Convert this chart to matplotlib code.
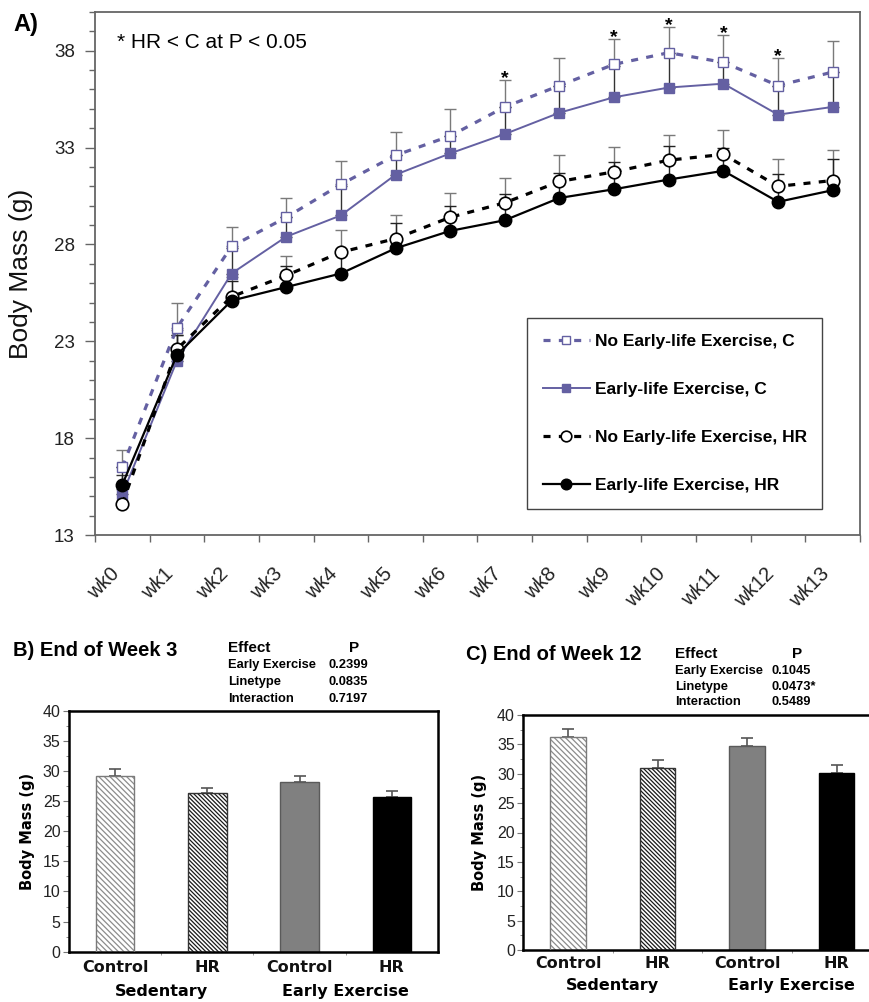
import numpy as np
import matplotlib
matplotlib.use('Agg')
import matplotlib.pyplot as plt
from matplotlib.transforms import ScaledTranslation, blended_transform_factory

plt.rcParams['font.family'] = ['Liberation Sans', 'DejaVu Sans']
plt.rcParams['hatch.linewidth'] = 0.9

# ---------------- data: panel A (weekly body mass) ----------------
weeks = ['wk0', 'wk1', 'wk2', 'wk3', 'wk4', 'wk5', 'wk6',
         'wk7', 'wk8', 'wk9', 'wk10', 'wk11', 'wk12', 'wk13']
nox_c = [16.5, 23.7, 27.9, 29.4, 31.1, 32.6, 33.6, 35.1, 36.2, 37.3, 37.9, 37.4, 36.2, 36.9]
nox_c_err = [0.9, 1.3, 1.0, 1.0, 1.2, 1.2, 1.4, 1.4, 1.4, 1.3, 1.35, 1.4, 1.45, 1.6]
ex_c = [15.1, 22.0, 26.5, 28.4, 29.5, 31.6, 32.7, 33.7, 34.8, 35.6, 36.1, 36.3, 34.7, 35.1]
ex_c_err = [1.0, 1.3, 1.3, 1.0, 1.5, 1.0, 0.9, 1.4, 1.4, 1.6, 1.8, 1.1, 1.5, 1.8]
nox_hr = [14.6, 22.6, 25.3, 26.4, 27.6, 28.3, 29.4, 30.15, 31.25, 31.75, 32.35, 32.65, 31.0, 31.3]
nox_hr_err = [0.8, 1.0, 1.0, 1.0, 1.15, 1.2, 1.25, 1.3, 1.35, 1.3, 1.3, 1.25, 1.4, 1.55]
ex_hr = [15.6, 22.3, 25.1, 25.8, 26.5, 27.8, 28.7, 29.25, 30.4, 30.85, 31.35, 31.8, 30.2, 30.8]
ex_hr_err = [0.9, 1.0, 1.0, 1.1, 1.2, 1.3, 1.3, 1.35, 1.3, 1.4, 1.75, 1.2, 1.45, 1.6]
star_weeks = [7, 9, 10, 11, 12]

# ---------------- data: panels B and C (bars) ----------------
bar_labels = ['Control', 'HR', 'Control', 'HR']
wk3_mass = [29.2, 26.3, 28.2, 25.7]
wk3_err = [1.1, 0.95, 1.0, 1.0]
wk12_mass = [36.2, 30.9, 34.7, 30.2]
wk12_err = [1.4, 1.4, 1.45, 1.35]
effects = ['Early Exercise', 'Linetype', 'Interaction']
wk3_p = ['0.2399', '0.0835', '0.7197']
wk12_p = ['0.1045', '0.0473*', '0.5489']

purple = '#6460a2'
W, H = 870, 1002
fig = plt.figure(figsize=(8.7, 10.02), dpi=100)

# ======================= A) line chart =======================
ax = fig.add_axes([95 / W, 1 - 535 / H, 765 / W, 523 / H])
x = np.arange(len(weeks))
zeros = np.zeros(len(weeks))

ax.errorbar(x, nox_c, yerr=[zeros, nox_c_err], fmt='none', ecolor='#7a7a7a',
            elinewidth=1.0, capsize=4.5, capthick=1.0, zorder=2)
ax.errorbar(x, ex_c, yerr=[zeros, ex_c_err], fmt='none', ecolor='#333333',
            elinewidth=1.0, capsize=4.5, capthick=1.0, zorder=2)
ax.errorbar(x, nox_hr, yerr=[zeros, nox_hr_err], fmt='none', ecolor='#7a7a7a',
            elinewidth=1.0, capsize=4.5, capthick=1.0, zorder=2)
ax.errorbar(x, ex_hr, yerr=[zeros, ex_hr_err], fmt='none', ecolor='#222222',
            elinewidth=1.0, capsize=4.5, capthick=1.0, zorder=2)

dash = (0, (2.2, 2.6))
ax.plot(x, nox_c, color=purple, lw=2.3, ls=dash, marker='s', ms=7.5,
        mfc='white', mec=purple, mew=1.0, zorder=3, label='No Early-life Exercise, C')
ax.plot(x, ex_c, color=purple, lw=1.4, marker='s', ms=7.5,
        mfc=purple, mec=purple, zorder=3, label='Early-life Exercise, C')
ax.plot(x, nox_hr, color='black', lw=2.3, ls=dash, marker='o', ms=9,
        mfc='white', mec='black', mew=1.2, zorder=4, label='No Early-life Exercise, HR')
ax.plot(x, ex_hr, color='black', lw=1.6, marker='o', ms=9,
        mfc='black', mec='black', zorder=4, label='Early-life Exercise, HR')

for i in star_weeks:
    ax.annotate('*', (x[i], nox_c[i] + nox_c_err[i]), xytext=(0, 1),
                textcoords='offset points', ha='center', va='center',
                fontsize=14, fontweight='bold', color='black')

ax.set_xlim(-0.5, len(weeks) - 0.5)
ax.set_ylim(13, 40)
ax.set_yticks([13, 18, 23, 28, 33, 38])
ax.set_yticks(np.arange(13, 41, 1), minor=True)
ax.set_xticks(x)
ax.set_xticklabels(weeks, rotation=45, ha='right', va='top',
                   rotation_mode='anchor', fontsize=14.5, color='#222222')
ax.set_xticks(np.arange(-0.5, len(weeks), 1), minor=True)
ax.tick_params(axis='x', which='major', length=0, pad=21)
ax.tick_params(axis='x', which='minor', length=5, width=1.0, color='#666666')
ax.tick_params(axis='y', which='major', length=7.5, width=1.0, color='#666666',
               labelsize=13.5, labelcolor='#222222', pad=7)
ax.tick_params(axis='y', which='minor', length=4.5, width=1.0, color='#666666')
shift = ScaledTranslation(-13 / 100, 0, fig.dpi_scale_trans)
for lab in ax.get_xticklabels():
    lab.set_transform(lab.get_transform() + shift)
for s in ax.spines.values():
    s.set_color('#666666')
    s.set_linewidth(1.3)

ax.set_ylabel('Body Mass (g)', fontsize=19, color='#111111')
ax.yaxis.set_label_coords((33 - 95) / 765, 0.5)

ax.text((117 - 95) / 765, (535 - 43) / 523, '* HR < C at P < 0.05',
        transform=ax.transAxes, ha='left', va='center', fontsize=15)
fig.text(13 / W, 1 - 24 / H, 'A)', fontsize=17, fontweight='bold', va='center')

leg = ax.legend(loc='upper left', bbox_to_anchor=(527 / W, 1 - 318 / H),
                bbox_transform=fig.transFigure, borderaxespad=0, fancybox=False,
                edgecolor='#444444', framealpha=1, numpoints=1, markerscale=0.85,
                prop={'weight': 'bold', 'size': 12.5}, labelspacing=1.9,
                handlelength=2.7, handletextpad=0.3, borderpad=0.9)
leg.get_frame().set_linewidth(1.0)


# ======================= B) and C) bar charts =======================
def bar_panel(ax, vals, errs, width, pad, row2_y):
    pos = np.arange(len(vals))
    ax.bar(pos[0], vals[0], width, color='white', edgecolor='#8c8c8c',
           hatch='\\' * 6, linewidth=0, zorder=2)
    ax.bar(pos[1], vals[1], width, color='white', edgecolor='#1a1a1a',
           hatch='\\' * 8, linewidth=0, zorder=2)
    ax.bar(pos[:2], vals[:2], width, fill=False, edgecolor=['#7a7a7a', '#333333'],
           linewidth=1.0, zorder=3)
    ax.bar(pos[2], vals[2], width, color='#808080', edgecolor='#5a5a5a',
           linewidth=1.0, zorder=2)
    ax.bar(pos[3], vals[3], width, color='black', edgecolor='black',
           linewidth=1.0, zorder=2)
    ax.errorbar(pos, vals, yerr=[np.zeros(len(vals)), errs], fmt='none',
                ecolor='#555555', elinewidth=1.2, capsize=4, capthick=1.2, zorder=1)
    ax.set_xlim(-0.5, len(vals) - 0.5)
    ax.set_ylim(0, 40)
    ax.set_yticks(np.arange(0, 41, 5))
    ax.set_yticks(np.arange(0, 40.1, 2.5), minor=True)
    ax.set_xticks(pos)
    ax.set_xticklabels(bar_labels, family='DejaVu Sans', fontweight='bold',
                       fontsize=11.5, color='#111111')
    ax.set_xticks([0.5, 1.5, 2.5], minor=True)
    ax.tick_params(axis='x', which='major', length=0, pad=pad)
    ax.tick_params(axis='x', which='minor', length=2.5, color='#888888')
    ax.tick_params(axis='y', which='major', length=4, color='#777777',
                   labelsize=11.5, labelcolor='#222222', pad=2)
    ax.tick_params(axis='y', which='minor', length=2.5, color='#777777')
    for s in ax.spines.values():
        s.set_color('black')
        s.set_linewidth(1.8)
    tr = blended_transform_factory(ax.transData, ax.transAxes)
    ax.text(0.5, row2_y, 'Sedentary', transform=tr, ha='center', va='center',
            family='DejaVu Sans', fontweight='bold', fontsize=11.5)
    ax.text(2.5, row2_y, 'Early Exercise', transform=tr, ha='center', va='center',
            family='DejaVu Sans', fontweight='bold', fontsize=11.5)
    ax.set_ylabel('Body Mass (g)', family='DejaVu Sans', fontweight='bold',
                  fontsize=10.5)


def stats_table(x0, xv, y_head, y_rows, p_vals):
    fig.text(x0 / W, 1 - y_head / H, 'Effect', fontsize=11, fontweight='bold',
             ha='left', va='center')
    fig.text((xv + 25) / W, 1 - y_head / H, 'P', fontsize=11, fontweight='bold',
             ha='center', va='center')
    for name, p, yy in zip(effects, p_vals, y_rows):
        fig.text(x0 / W, 1 - yy / H, name, fontsize=9.3, fontweight='bold',
                 ha='left', va='center')
        fig.text(xv / W, 1 - yy / H, p, fontsize=9.3, fontweight='bold',
                 ha='left', va='center')


axb = fig.add_axes([69 / W, 1 - 951.7 / H, 369 / W, 241 / H])
bar_panel(axb, wk3_mass, wk3_err, 0.42, 6, -0.167)
axb.yaxis.set_label_coords((35 - 69) / 369, 0.5)
fig.text(13 / W, 1 - 650 / H, 'B) End of Week 3', fontsize=14.5,
         fontweight='bold', va='center')
stats_table(228, 329, 648, [665, 682, 699], wk3_p)

axc = fig.add_axes([523.3 / W, 1 - 950 / H, 358 / W, 235 / H])
bar_panel(axc, wk12_mass, wk12_err, 0.40, 4.5, -0.149)
axc.yaxis.set_label_coords((487 - 523.3) / 358, 0.5)
fig.text(466 / W, 1 - 654 / H, 'C) End of Week 12', fontsize=14.5,
         fontweight='bold', va='center')
stats_table(675, 771.7, 654, [670.7, 686.7, 702.3], wk12_p)

fig.savefig('out.png', dpi=100, facecolor='white')
